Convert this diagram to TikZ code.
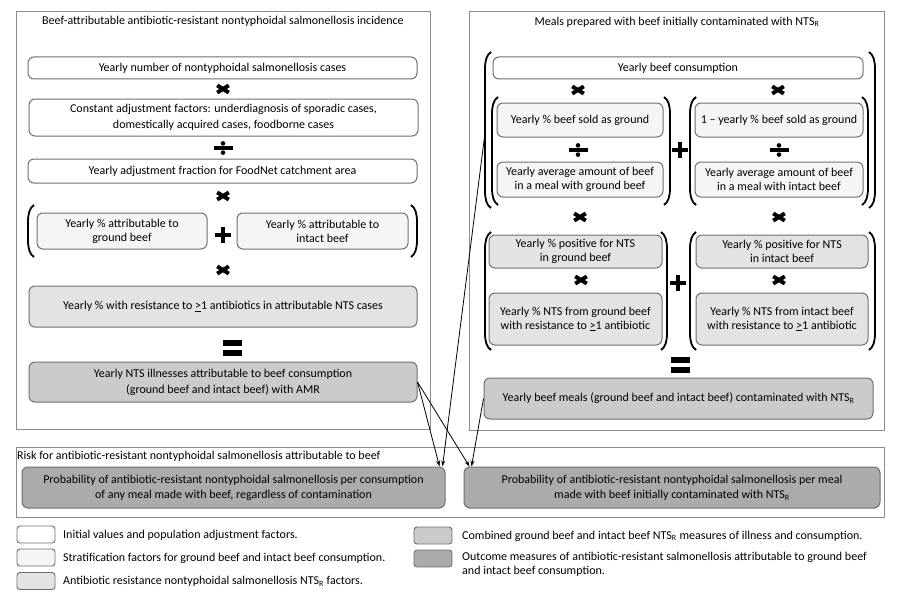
\documentclass[tikz,border=0pt]{standalone}
\usepackage{fontspec}
\setmainfont{Carlito}
\usetikzlibrary{arrows.meta}
\definecolor{bdr}{HTML}{707070}
\definecolor{panel}{HTML}{8C8C8C}
\definecolor{cinit}{HTML}{FFFFFF}
\definecolor{cstrat}{HTML}{F5F5F5}
\definecolor{cres}{HTML}{E3E3E3}
\definecolor{ccomb}{HTML}{CBCBCB}
\definecolor{cout}{HTML}{ABABAB}
\tikzset{
  base/.style={draw=bdr, line width=1pt, rounded corners=6pt, align=center, inner sep=0pt,
    font=\fontsize{12}{14}\selectfont},
  init/.style={base, fill=cinit},
  strat/.style={base, fill=cstrat},
  res/.style={base, fill=cres},
  comb/.style={base, fill=ccomb},
  outc/.style={base, fill=cout},
  wide/.style={font=\fontsize{12}{16}\selectfont},
  mid/.style={font=\fontsize{12}{15}\selectfont},
  ttl/.style={inner sep=0pt, font=\fontsize{12}{13}\selectfont},
  legtxt/.style={inner sep=0pt, anchor=west, align=left, font=\fontsize{12}{14}\selectfont},
  swatch/.style={draw=bdr, line width=0.9pt, rounded corners=3pt, minimum width=38, minimum height=17, inner sep=0pt},
  panelbox/.style={draw=panel, line width=1pt},
  brk/.style={line width=1.8pt, black},
  opsym/.style={black},
  conn/.style={-{Stealth[length=6pt,width=4pt]}, line width=0.8pt, black},
}
\newcommand{\bx}[7]{\node[#2, minimum width={#5-#3}, minimum height={#6-#4}] (#1) at ({(#3+#5)/2},{(#4+#6)/2}) {#7};}
\newcommand{\optimes}[2]{\draw[opsym, line width=3.9pt] ({#1-5.8},{#2-3.6}) -- ({#1+5.8},{#2+3.6}) ({#1-5.8},{#2+3.6}) -- ({#1+5.8},{#2-3.6});}
\newcommand{\opdiv}[2]{\fill[opsym] ({#1-9.5},{#2-1.7}) rectangle ({#1+9.5},{#2+1.7}); \fill[opsym] (#1,{#2-4.6}) circle (2.3) (#1,{#2+4.6}) circle (2.3);}
\newcommand{\opplus}[2]{\fill[opsym] ({#1-8},{#2-2.2}) rectangle ({#1+8},{#2+2.2}); \fill[opsym] ({#1-2.2},{#2-8}) rectangle ({#1+2.2},{#2+8});}
\newcommand{\opeq}[2]{\fill[opsym] ({#1-9.5},{#2-8}) rectangle ({#1+9.5},{#2-2}); \fill[opsym] ({#1-9.5},{#2+2}) rectangle ({#1+9.5},{#2+8});}
\newcommand{\lbrk}[3]{\draw[brk] ({#1+6},#2) .. controls ({#1+1.5},{#2+3}) and (#1,{#2+9}) .. (#1,{#2+17}) -- (#1,{#3-17}) .. controls (#1,{#3-9}) and ({#1+1.5},{#3-3}) .. ({#1+6},#3);}
\newcommand{\rbrk}[3]{\draw[brk] ({#1-6},#2) .. controls ({#1-1.5},{#2+3}) and (#1,{#2+9}) .. (#1,{#2+17}) -- (#1,{#3-17}) .. controls (#1,{#3-9}) and ({#1-1.5},{#3-3}) .. ({#1-6},#3);}
\begin{document}
\begin{tikzpicture}[x=1pt,y=-1pt]
\useasboundingbox[fill=white] (0,0) rectangle (900,602);
% ---------- left panel
\draw[panelbox] (16,12) rectangle (430,429);
\node[ttl] (lt) at (223,21) {Beef-attributable antibiotic-resistant nontyphoidal salmonellosis incidence};
\bx{b1}{init}{28}{57}{417}{79}{Yearly number of nontyphoidal salmonellosis cases}
\optimes{223}{89}
\bx{b2}{init,wide}{29}{99}{418}{136}{Constant adjustment factors: underdiagnosis of sporadic cases,\\ domestically acquired cases, foodborne cases}
\opdiv{223}{148}
\bx{b3}{init}{28}{159}{417}{183}{Yearly adjustment fraction for FoodNet catchment area}
\optimes{223}{196}
\lbrk{28}{205}{257}
\rbrk{417}{205}{257}
\bx{b4a}{strat}{37}{213}{207}{249}{Yearly \% attributable to\\ ground beef}
\opplus{223}{235}
\bx{b4b}{strat}{237}{213}{408}{249}{Yearly \% attributable to\\ intact beef}
\optimes{223}{270}
\bx{b5}{res}{29}{286}{417}{327}{Yearly \% with resistance to \underline{>}1 antibiotics in attributable NTS cases}
\opeq{232}{348}
\bx{b6}{comb,wide}{29}{362}{417}{402}{Yearly NTS illnesses attributable to beef consumption\\ (ground beef and intact beef) with AMR}
% ---------- right panel
\draw[panelbox] (469,12) rectangle (884,430);
\node[ttl] (rtl) at (677,22) {Meals prepared with beef initially contaminated with NTS\textsubscript{R}};
\lbrk{485}{52}{208}
\rbrk{875}{52}{208}
\coordinate (outerL) at (485,133);
\bx{r1}{init}{493}{57}{863}{79}{Yearly beef consumption}
\optimes{578}{90}
\optimes{778}{90}
\lbrk{492}{97}{205}
\rbrk{670}{97}{205}
\lbrk{690}{97}{205}
\rbrk{868}{97}{205}
\bx{r2a}{strat}{497}{103}{663}{137}{Yearly \% beef sold as ground}
\opdiv{578}{150}
\bx{r3a}{strat}{497}{162}{663}{197}{Yearly average amount of beef\\ in a meal with ground beef}
\opplus{680}{150}
\bx{r2b}{strat}{695}{103}{863}{137}{1 – yearly \% beef sold as ground}
\opdiv{779}{150}
\bx{r3b}{strat}{695}{162}{863}{197}{Yearly average amount of beef\\ in a meal with intact beef}
\optimes{580}{217}
\optimes{779}{217}
\lbrk{485}{232}{350}
\rbrk{667}{232}{350}
\lbrk{690}{232}{350}
\rbrk{875}{232}{350}
\bx{r4a}{res}{489}{235}{662}{268}{Yearly \% positive for NTS\\ in ground beef}
\optimes{581}{280}
\bx{r5a}{res}{489}{293}{662}{345}{Yearly \% NTS from ground beef\\ with resistance to \underline{>}1 antibiotic}
\opplus{678}{283}
\bx{r4b}{res}{696}{235}{868}{268}{Yearly \% positive for NTS\\ in intact beef}
\optimes{779}{280}
\bx{r5b}{res}{696}{293}{868}{345}{Yearly \% NTS from intact beef\\ with resistance to \underline{>}1 antibiotic}
\opeq{680}{365}
\bx{rb}{comb}{484}{378}{873}{419}{Yearly beef meals (ground beef and intact beef) contaminated with NTS\textsubscript{R}}
% ---------- risk section
\draw[panelbox] (16,447) rectangle (884,517);
\node[ttl, anchor=west] (rkt) at (17,456) {Risk for antibiotic-resistant nontyphoidal salmonellosis attributable to beef};
\bx{p1}{outc,mid}{22}{467}{445}{508}{Probability of antibiotic-resistant nontyphoidal salmonellosis per consumption\\ of any meal made with beef, regardless of contamination}
\bx{p2}{outc,mid}{464}{467}{880}{508}{Probability of antibiotic-resistant nontyphoidal salmonellosis per meal\\ made with beef initially contaminated with NTS\textsubscript{R}}
% ---------- connectors
\draw[conn] (b6.east) -- ([xshift=-6pt]p1.north east);
\draw[conn] (outerL) -- ([xshift=-3pt]p1.north east);
\draw[conn] (b6.east) -- ([xshift=6pt]p2.north west);
\draw[conn] (rb.west) -- ([xshift=8pt]p2.north west);
% ---------- legend
\node[swatch, fill=cinit] (s1) at (36,534.5) {};
\node[legtxt] (l1) at (63,535) {Initial values and population adjustment factors.};
\node[swatch, fill=cstrat] (s2) at (36,557.5) {};
\node[legtxt] (l2) at (63,558) {Stratification factors for ground beef and intact beef consumption.};
\node[swatch, fill=cres] (s3) at (36,581) {};
\node[legtxt] (l3) at (63,581) {Antibiotic resistance nontyphoidal salmonellosis NTS\textsubscript{R} factors.};
\node[swatch, fill=ccomb] (s4) at (433,535.5) {};
\node[legtxt] (l4) at (462,536) {Combined ground beef and intact beef NTS\textsubscript{R} measures of illness and consumption.};
\node[swatch, fill=cout] (s5) at (433,558.5) {};
\node[legtxt, anchor=north west] (l5) at (462,552) {Outcome measures of antibiotic-resistant salmonellosis attributable to ground beef\\ and intact beef consumption.};
\end{tikzpicture}
\end{document}
